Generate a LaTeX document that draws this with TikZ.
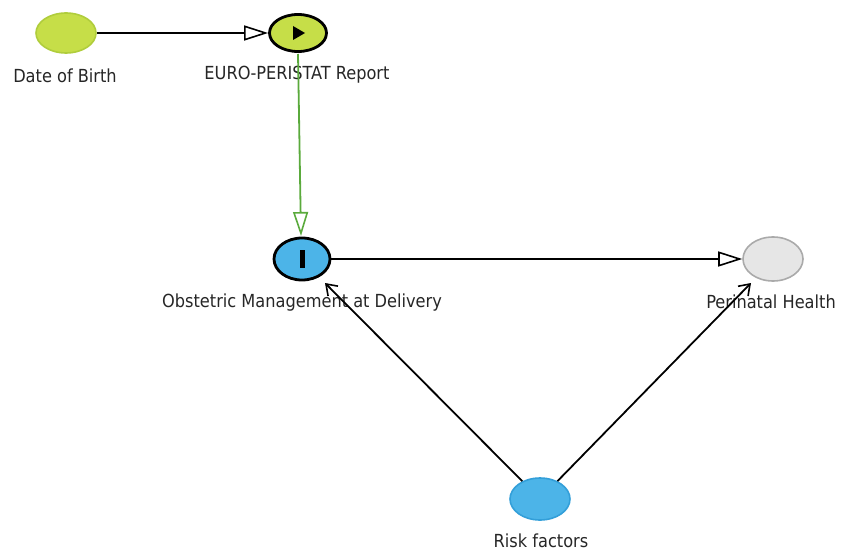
\documentclass[tikz,border=0pt]{standalone}
\usepackage{fontspec}
\setmainfont{DejaVu Sans Condensed}
\usetikzlibrary{arrows.meta,shapes.geometric,calc}
\definecolor{ygreen}{RGB}{198,222,72}
\definecolor{ygreenb}{RGB}{176,205,60}
\definecolor{skyb}{RGB}{76,180,232}
\definecolor{skybb}{RGB}{40,150,210}
\definecolor{lgrey}{RGB}{230,230,230}
\definecolor{mgrey}{RGB}{170,170,170}
\definecolor{arrgreen}{RGB}{90,170,60}
\tikzset{
  chance/.style={ellipse, minimum width=60pt, minimum height=40pt, inner sep=0pt, line width=1.6pt},
  lbl/.style={font=\fontsize{18}{21}\selectfont, text=black!85},
  infarrow/.style={line width=1.8pt, -{Triangle[open,length=24pt,width=15pt,line width=1.6pt]}},
  relarrow/.style={line width=1.8pt, -{Straight Barb[length=10pt,width=14pt,line width=1.6pt]}}
}
\begin{document}
\begin{tikzpicture}[x=1pt,y=-1pt]
\useasboundingbox (0,0) rectangle (842,551);
\node[chance, fill=ygreen, draw=ygreenb] (dob) at (66,33) {};
\node[lbl] (dobl) at (65,76) {Date of Birth};
\node[chance, fill=ygreen, draw=black, line width=2.8pt, minimum width=57pt, minimum height=37pt] (euro) at (298,33) {};
\node[lbl] (eurol) at (297,75) {EURO‑PERISTAT Report};
\fill[black] ($(euro)+(-5,-7)$) -- ++(0,14) -- ++(12,-7) -- cycle;
\node[chance, fill=skyb, draw=black, line width=2.8pt, minimum width=56pt, minimum height=42pt] (obs) at (302,259) {};
\fill[black] (299.5,250) rectangle (304.5,268);
\node[lbl] (obsl) at (302,303) {Obstetric Management at Delivery};
\node[chance, fill=lgrey, draw=mgrey, minimum width=60pt, minimum height=44pt] (peri) at (773,259) {};
\node[lbl] (peril) at (771,302) {Perinatal Health};
\node[chance, fill=skyb, draw=skybb!70!skyb, minimum width=60pt, minimum height=42pt] (risk) at (540,499) {};
\node[lbl] (riskl) at (541,541) {Risk factors};
\coordinate (obsin) at (325,283);
\coordinate (periin) at (751,283);
\coordinate (eurobot) at (298,54);
\coordinate (obstop) at (301,236);
\draw[infarrow] (dob) -- (euro);
\draw[infarrow, draw=arrgreen] (eurobot) -- (obstop);
\draw[infarrow] (obs) -- (peri);
\draw[relarrow] (risk) -- (obsin);
\draw[relarrow] (risk) -- (periin);
\end{tikzpicture}
\end{document}
